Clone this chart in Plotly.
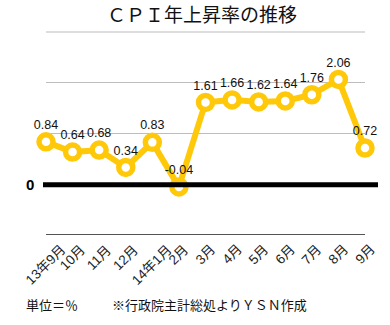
import plotly.graph_objects as go

months = ["13年9月", "10月", "11月", "12月", "14年1月", "2月", "3月", "4月", "5月", "6月", "7月", "8月", "9月"]
cpi = [0.84, 0.64, 0.68, 0.34, 0.83, -0.04, 1.61, 1.66, 1.62, 1.64, 1.76, 2.06, 0.72]
labels = [f"{v:.2f}" for v in cpi]

FONT = "Liberation Sans, Arial, Noto Sans CJK JP"
GOLD = "#FFC90A"

L, R, T, B = 46, 25, 62, 91
W, H = 390, 325
pw = W - L - R
ph = H - T - B

def px_x(px):
    return (px - L) / pw

def px_y(py):
    return (H - B - py) / ph

TICK_SIZE = 13.5

def text_w(s, size=TICK_SIZE):
    return sum(size * (0.556 if ord(c) < 128 else 1.0) for c in s)

xs = list(range(len(months)))

fig = go.Figure()
fig.add_trace(go.Scatter(
    x=xs, y=cpi,
    mode="lines+markers+text",
    text=labels, textposition="top center",
    textfont=dict(size=12.5, color="#111", family=FONT),
    line=dict(color=GOLD, width=6),
    marker=dict(size=14, color="white", line=dict(color=GOLD, width=5.5)),
    cliponaxis=False,
    hoverinfo="skip",
))

TOP = 243
tick_annots = []
for i, m in zip(xs, months):
    half = (text_w(m) + 12) * 0.7071 / 2
    tick_annots.append(dict(
        text=m, xref="x", yref="paper", x=i, y=px_y(TOP + half),
        xanchor="center", yanchor="middle", textangle=-45, showarrow=False,
        font=dict(size=TICK_SIZE, family=FONT, color="#222")))

fig.update_layout(
    width=W, height=H,
    margin=dict(l=L, r=R, t=T, b=B, autoexpand=False),
    paper_bgcolor="white", plot_bgcolor="white",
    showlegend=False,
    font=dict(family=FONT, color="#111"),
    xaxis=dict(
        range=[0, len(months) - 1],
        showticklabels=False,
        showgrid=False, zeroline=False,
        showline=True, linecolor="#555", linewidth=1,
        ticks="", automargin=False,
    ),
    yaxis=dict(
        range=[-0.96, 2.4],
        tickmode="array",
        tickvals=[1, 2],
        ticktext=["", ""],
        showgrid=True, gridcolor="#BDBDBD", gridwidth=1,
        zeroline=False, showline=False, ticks="", automargin=False,
    ),
    shapes=[
        dict(type="line", xref="paper", yref="y",
             x0=px_x(43), x1=px_x(378), y0=0, y1=0,
             line=dict(color="black", width=5), layer="above"),
        dict(type="line", xref="paper", yref="paper",
             x0=0, x1=1, y0=px_y(32), y1=px_y(32),
             line=dict(color="#BBBBBB", width=1)),
    ],
    annotations=[
        dict(text="ＣＰＩ年上昇率の推移", xref="paper", yref="paper",
             x=px_x(202), y=px_y(16), xanchor="center", yanchor="middle",
             showarrow=False, font=dict(size=19, family=FONT, color="#111")),
        dict(text="<b>0</b>", xref="paper", yref="y",
             x=px_x(30), y=0, xanchor="center", yanchor="middle",
             showarrow=False, font=dict(size=15, family=FONT, color="#000")),
        dict(text="単位＝％", xref="paper", yref="paper",
             x=px_x(24), y=px_y(305), xanchor="left", yanchor="middle",
             showarrow=False, font=dict(size=13, family=FONT, color="#111")),
        dict(text="※行政院主計総処よりＹＳＮ作成", xref="paper", yref="paper",
             x=px_x(110), y=px_y(305), xanchor="left", yanchor="middle",
             showarrow=False, font=dict(size=13, family=FONT, color="#111")),
    ] + tick_annots,
)

fig.write_html("out.html")
